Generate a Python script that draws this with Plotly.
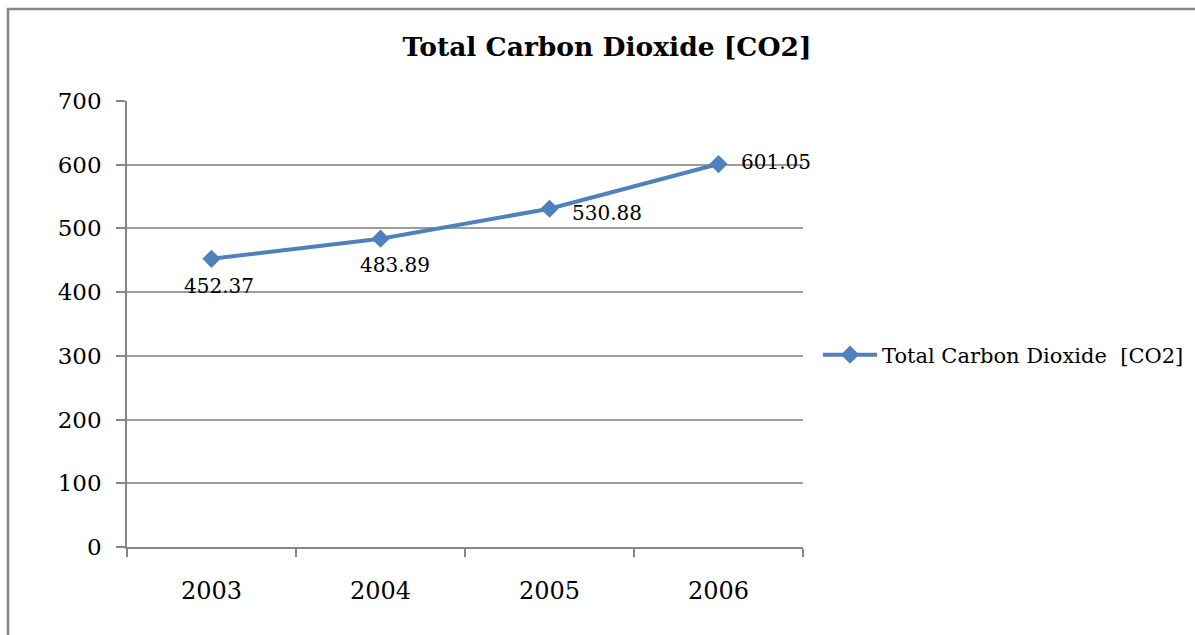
import plotly.graph_objects as go

years = ["2003", "2004", "2005", "2006"]
co2 = [452.37, 483.89, 530.88, 601.05]
series_name = "Total Carbon Dioxide  [CO2]"
title_text = "Total Carbon Dioxide [CO2]"
y_ticks = [0, 100, 200, 300, 400, 500, 600, 700]

FONT = "DejaVu Serif"
GRAY = "#868686"
GRID = "#9E9E9E"
BLUE = "#4F81BD"

W, H = 1195, 635
L, R, T, B = 127, 392, 101, 88
pw, ph = W - L - R, H - T - B

fig = go.Figure()
fig.add_trace(go.Scatter(
    x=years, y=co2, mode="lines+markers", name=series_name,
    line=dict(color=BLUE, width=4),
    marker=dict(symbol="diamond", size=14, color=BLUE),
))

# data labels: (xshift, yshift, xanchor)
label_pos = [(7, -27, "center"), (14, -26, "center"), (20, -4, "left"), (20, 2, "left")]
for i, (yv, (dx, dy, xa)) in enumerate(zip(co2, label_pos)):
    fig.add_annotation(x=i, y=yv, xref="x", yref="y", text=f"{yv:.2f}", showarrow=False,
                       xshift=dx, yshift=dy, xanchor=xa, yanchor="middle",
                       font=dict(family=FONT, size=20, color="#000000"))

# chart border (top and left visible)
x0 = (8 - L) / pw
y1 = (H - B - 9) / ph
fig.add_shape(type="rect", xref="paper", yref="paper",
              x0=x0, y0=-1, x1=2, y1=y1,
              line=dict(color=GRAY, width=2.5), fillcolor="rgba(0,0,0,0)", layer="below")

fig.update_layout(
    width=W, height=H,
    margin=dict(l=L, r=R, t=T, b=B, autoexpand=False),
    paper_bgcolor="white", plot_bgcolor="white",
    title=dict(text="<b>" + title_text + "</b>", x=(607 - L) / pw, xref="paper", xanchor="center",
               y=1 - 47 / H, yanchor="middle",
               font=dict(family=FONT, size=26.5, color="#000000")),
    showlegend=True,
    legend=dict(x=(818 - L) / pw, y=(547 - 355) / ph, xanchor="left", yanchor="middle",
                itemwidth=54,
                font=dict(family=FONT, size=21, color="#000000"),
                bgcolor="rgba(0,0,0,0)", borderwidth=0),
    xaxis=dict(type="category", range=[-0.5, 3.5], showgrid=False,
               showline=True, linecolor=GRAY, linewidth=1.5,
               ticks="outside", tickson="boundaries", ticklen=8, tickcolor=GRAY, tickwidth=1.5,
               ticklabelstandoff=21,
               tickfont=dict(family=FONT, size=24, color="#000000")),
    yaxis=dict(range=[0, 700], tickvals=y_ticks, showgrid=True, gridcolor=GRID, gridwidth=1.5,
               showline=True, linecolor=GRAY, linewidth=1.5, zeroline=False,
               ticks="outside", ticklen=9, tickcolor=GRAY, tickwidth=1.5,
               ticklabelstandoff=10,
               tickfont=dict(family=FONT, size=23, color="#000000")),
)

fig.write_html("out.html")
